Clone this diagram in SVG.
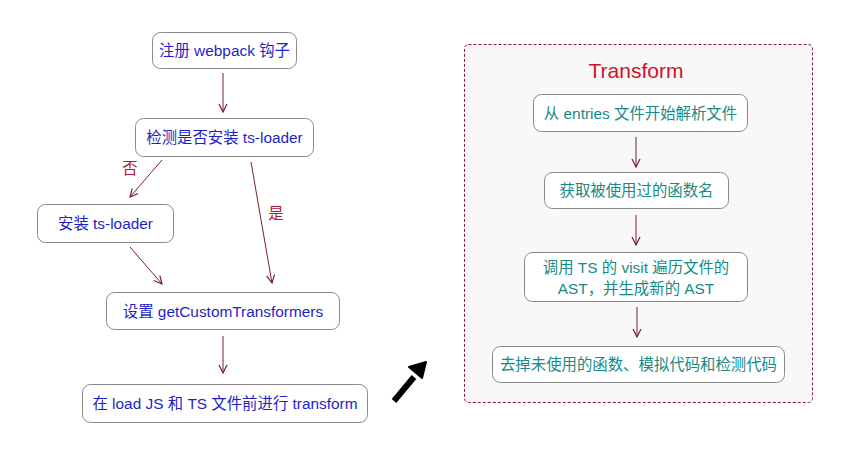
<svg xmlns="http://www.w3.org/2000/svg" width="855" height="453" viewBox="0 0 855 453">
<defs>
<marker id="v" viewBox="0 0 10 10" refX="9" refY="5" markerWidth="10" markerHeight="10" markerUnits="userSpaceOnUse" orient="auto">
<path d="M1,1 L9,5 L1,9" fill="none" stroke="#7b1f2e" stroke-width="1.2"/>
</marker>
</defs>
<style>
text{font-family:"Liberation Sans","Noto Sans CJK SC",sans-serif;font-size:15.4px;text-anchor:middle}
.n rect{fill:#fff;stroke:#8a8a8a;stroke-width:1}
.b{fill:#1f1fc8}
.t{fill:#168a86}
.c{stroke:#7b1f2e;stroke-width:1;fill:none}
.lab{fill:#b01a2a}
</style>
<rect width="855" height="453" fill="#fff"/>
<g id="container">
<rect x="464.5" y="44.5" width="348" height="358" rx="4" fill="#f8f8f8" stroke="#8b1a2a" stroke-width="1" stroke-dasharray="3,2"/>
<text x="636" y="78" style="font-size:21px" fill="#d0102a">Transform</text>
</g>
<g id="connectors">
<line class="c" x1="223" y1="73" x2="223" y2="112" marker-end="url(#v)"/>
<line class="c" x1="162" y1="160" x2="130" y2="197" marker-end="url(#v)"/>
<line class="c" x1="251" y1="162" x2="272" y2="283" marker-end="url(#v)"/>
<line class="c" x1="130" y1="247" x2="162" y2="284" marker-end="url(#v)"/>
<line class="c" x1="223" y1="336" x2="223" y2="373" marker-end="url(#v)"/>
<line class="c" x1="636" y1="137" x2="636" y2="167" marker-end="url(#v)"/>
<line class="c" x1="636" y1="215" x2="636" y2="245" marker-end="url(#v)"/>
<line class="c" x1="637" y1="307" x2="637" y2="337" marker-end="url(#v)"/>
<text class="lab" x="130" y="174">否</text>
<text class="lab" x="276" y="219">是</text>
</g>
<g id="n1" class="n"><rect x="152.5" y="32.5" width="144" height="36" rx="8"/><text class="b" x="224.5" y="56">注册 webpack 钩子</text></g>
<g id="n2" class="n"><rect x="135.5" y="118.5" width="178" height="38" rx="8"/><text class="b" x="224.5" y="143">检测是否安装 ts-loader</text></g>
<g id="n3" class="n"><rect x="37.5" y="204.5" width="136" height="38" rx="8"/><text class="b" x="105.5" y="229">安装 ts-loader</text></g>
<g id="n4" class="n"><rect x="106.5" y="292.5" width="233" height="37" rx="8"/><text class="b" x="223" y="317">设置 getCustomTransformers</text></g>
<g id="n5" class="n"><rect x="82.5" y="384.5" width="285" height="38" rx="8"/><text class="b" x="225" y="409">在 load JS 和 TS 文件前进行 transform</text></g>
<g id="bigarrow">
<line x1="394" y1="401" x2="414" y2="377" stroke="#000" stroke-width="6"/>
<polygon points="426,362 422,378 409,367" fill="#000" stroke="#000" stroke-width="2" stroke-linejoin="round"/>
</g>
<g id="t1" class="n"><rect x="533.5" y="94.5" width="214" height="37" rx="8"/><text class="t" x="640.5" y="119">从 entries 文件开始解析文件</text></g>
<g id="t2" class="n"><rect x="544.5" y="172.5" width="184" height="36" rx="8"/><text class="t" x="636.5" y="196">获取被使用过的函数名</text></g>
<g id="t3" class="n"><rect x="524.5" y="252.5" width="223" height="49" rx="8"/><text class="t" x="636" y="273">调用 TS 的 visit 遍历文件的</text><text class="t" x="636" y="294">AST，并生成新的 AST</text></g>
<g id="t4" class="n"><rect x="492.5" y="346.5" width="292" height="36" rx="8"/><text class="t" x="638.5" y="370">去掉未使用的函数、模拟代码和检测代码</text></g>
</svg>
